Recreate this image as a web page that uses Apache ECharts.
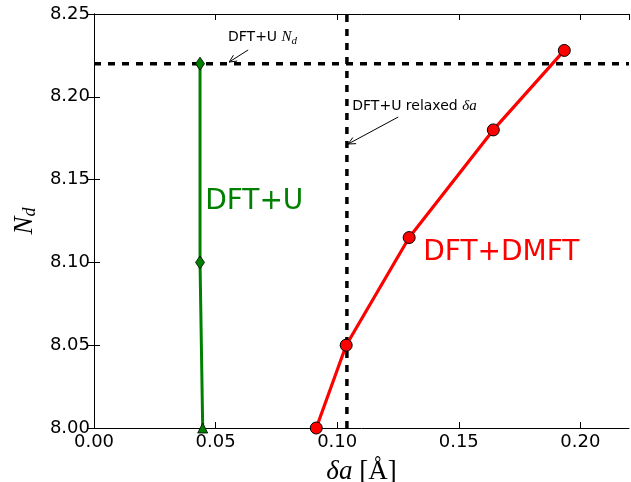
<!DOCTYPE html>
<html>
<head>
<meta charset="utf-8">
<script src="https://cdn.jsdelivr.net/npm/echarts@6/dist/echarts.min.js"></script>
<style>
  html, body { margin: 0; padding: 0; background: #fff; }
  #main { width: 631px; height: 482px; }
</style>
</head>
<body>
<div id="main"></div>
<script>
// DFT+U: N_d vs delta a
const uX = [0.0436, 0.0436, 0.0447];
const uY = [8.22, 8.10, 8.00];
const uSymbols = ['diamond', 'diamond', 'triangle'];

// DFT+DMFT
const dmftX = [0.0914, 0.1037, 0.1296, 0.1642, 0.1934];
const dmftY = [8.00, 8.05, 8.115, 8.18, 8.228];

// reference lines
const refNd = 8.22;      // DFT+U N_d
const refDa = 0.104;     // DFT+U relaxed delta a

const xTicks = { min: 0, max: 0.22, step: 0.05 };
const yTicks = { min: 8.0, max: 8.25, step: 0.05 };

// annotations in data coords
const noteNd = { at: [0.0551, 8.236], from: [0.0634, 8.2283], to: [0.0556, 8.221] };
const noteDa = { at: [0.1062, 8.1945], from: [0.1251, 8.1878], to: [0.1045, 8.1715] };
const labelU = [0.0457, 8.1365];
const labelDmft = [0.1354, 8.106];

const sans = 'DejaVu Sans';
const serif = 'Liberation Serif';

const chart = echarts.init(document.getElementById('main'));

const tickStyle = { inside: true, length: 6, lineStyle: { color: '#000' } };
const lineAxis = { show: true, lineStyle: { color: '#000', width: 1 } };
const dashStyle = { color: '#000', width: 3.5, type: [7, 7] };

const option = {
  animation: false,
  grid: { left: 94, top: 14, right: 2, bottom: 54, outerBoundsMode: 'none' },
  xAxis: [
    {
      type: 'value', min: xTicks.min, max: xTicks.max, interval: xTicks.step,
      axisLine: lineAxis, axisTick: tickStyle, splitLine: { show: false },
      axisLabel: {
        color: '#000', fontFamily: sans, fontSize: 18, margin: 5,
        formatter: v => v.toFixed(2), showMaxLabel: false
      },
      name: '{d|δa }{b|[Å]}', nameLocation: 'middle', nameGap: 30,
      nameTextStyle: {
        rich: {
          d: { fontFamily: serif, fontStyle: 'italic', fontSize: 27, color: '#000' },
          b: { fontFamily: serif, fontSize: 27, color: '#000' }
        }
      }
    },
    {
      type: 'value', position: 'top', min: xTicks.min, max: xTicks.max, interval: xTicks.step,
      axisLine: lineAxis, axisTick: tickStyle, axisLabel: { show: false }, splitLine: { show: false }
    }
  ],
  yAxis: [
    {
      type: 'value', min: yTicks.min, max: yTicks.max, interval: yTicks.step,
      axisLine: lineAxis, axisTick: tickStyle, splitLine: { show: false },
      axisLabel: {
        color: '#000', fontFamily: sans, fontSize: 18, margin: 4,
        formatter: v => v.toFixed(2)
      },
      name: '{n|N}{s|d}', nameLocation: 'middle', nameGap: 53, nameRotate: 90,
      nameTextStyle: {
        rich: {
          n: { fontFamily: serif, fontStyle: 'italic', fontSize: 27, color: '#000' },
          s: { fontFamily: serif, fontStyle: 'italic', fontSize: 18, color: '#000', padding: [10, 0, 0, 0] }
        }
      }
    },
    {
      type: 'value', position: 'right', min: yTicks.min, max: yTicks.max, interval: yTicks.step,
      axisLine: lineAxis, axisTick: tickStyle, axisLabel: { show: false }, splitLine: { show: false }
    }
  ],
  series: [
    {
      type: 'line', silent: true, symbol: 'none',
      data: [[xTicks.min, refNd], [xTicks.max, refNd]],
      lineStyle: dashStyle, z: 2
    },
    {
      type: 'line', silent: true, symbol: 'none',
      data: [[refDa, yTicks.min], [refDa, yTicks.max]],
      lineStyle: dashStyle, z: 2
    },
    {
      name: 'DFT+U', type: 'line',
      data: uX.map((x, i) => ({
        value: [x, uY[i]],
        symbol: uSymbols[i],
        symbolSize: uSymbols[i] === 'diamond' ? [9, 13] : [10, 10]
      })),
      lineStyle: { color: '#008000', width: 3 },
      itemStyle: { color: '#008000', borderColor: '#000', borderWidth: 0.8 },
      z: 3
    },
    {
      name: 'DFT+DMFT', type: 'line',
      data: dmftX.map((x, i) => [x, dmftY[i]]),
      symbol: 'circle', symbolSize: 12,
      lineStyle: { color: '#ff0000', width: 3.2 },
      itemStyle: { color: '#ff0000', borderColor: '#000', borderWidth: 1 },
      z: 4
    }
  ]
};

chart.setOption(option);

function px(p) { return chart.convertToPixel({ gridIndex: 0 }, p); }

function arrow(note) {
  const a = px(note.from), b = px(note.to);
  const ang = Math.atan2(b[1] - a[1], b[0] - a[0]);
  const h = 8, w = 0.45;
  const l = [b[0] - h * Math.cos(ang - w), b[1] - h * Math.sin(ang - w)];
  const r = [b[0] - h * Math.cos(ang + w), b[1] - h * Math.sin(ang + w)];
  return [
    { type: 'polyline', shape: { points: [a, b] }, style: { stroke: '#000', lineWidth: 1, fill: null }, z: 10 },
    { type: 'polyline', shape: { points: [l, b, r] }, style: { stroke: '#000', lineWidth: 1, fill: null }, z: 10 }
  ];
}

function note(at, rich, text) {
  const p = px(at);
  return {
    type: 'text', x: p[0], y: p[1], z: 10,
    style: { text: text, rich: rich, verticalAlign: 'middle', align: 'left' }
  };
}

const noteRich = {
  t: { fontFamily: sans, fontSize: 14, fill: '#000' },
  m: { fontFamily: serif, fontStyle: 'italic', fontSize: 15, fill: '#000' },
  s: { fontFamily: serif, fontStyle: 'italic', fontSize: 11, fill: '#000', padding: [8, 0, 0, 0] }
};

const pu = px(labelU), pd = px(labelDmft);
chart.setOption({
  graphic: [
    note(noteNd.at, noteRich, '{t|DFT+U }{m|N}{s|d}'),
    note(noteDa.at, noteRich, '{t|DFT+U relaxed }{m|δa}'),
    ...arrow(noteNd),
    ...arrow(noteDa),
    { type: 'text', x: pu[0], y: pu[1], z: 10,
      style: { text: 'DFT+U', fill: '#008000', font: '28px "DejaVu Sans"', verticalAlign: 'middle' } },
    { type: 'text', x: pd[0], y: pd[1], z: 10,
      style: { text: 'DFT+DMFT', fill: '#ff0000', font: '28px "DejaVu Sans"', verticalAlign: 'middle' } }
  ]
});
</script>
</body>
</html>
